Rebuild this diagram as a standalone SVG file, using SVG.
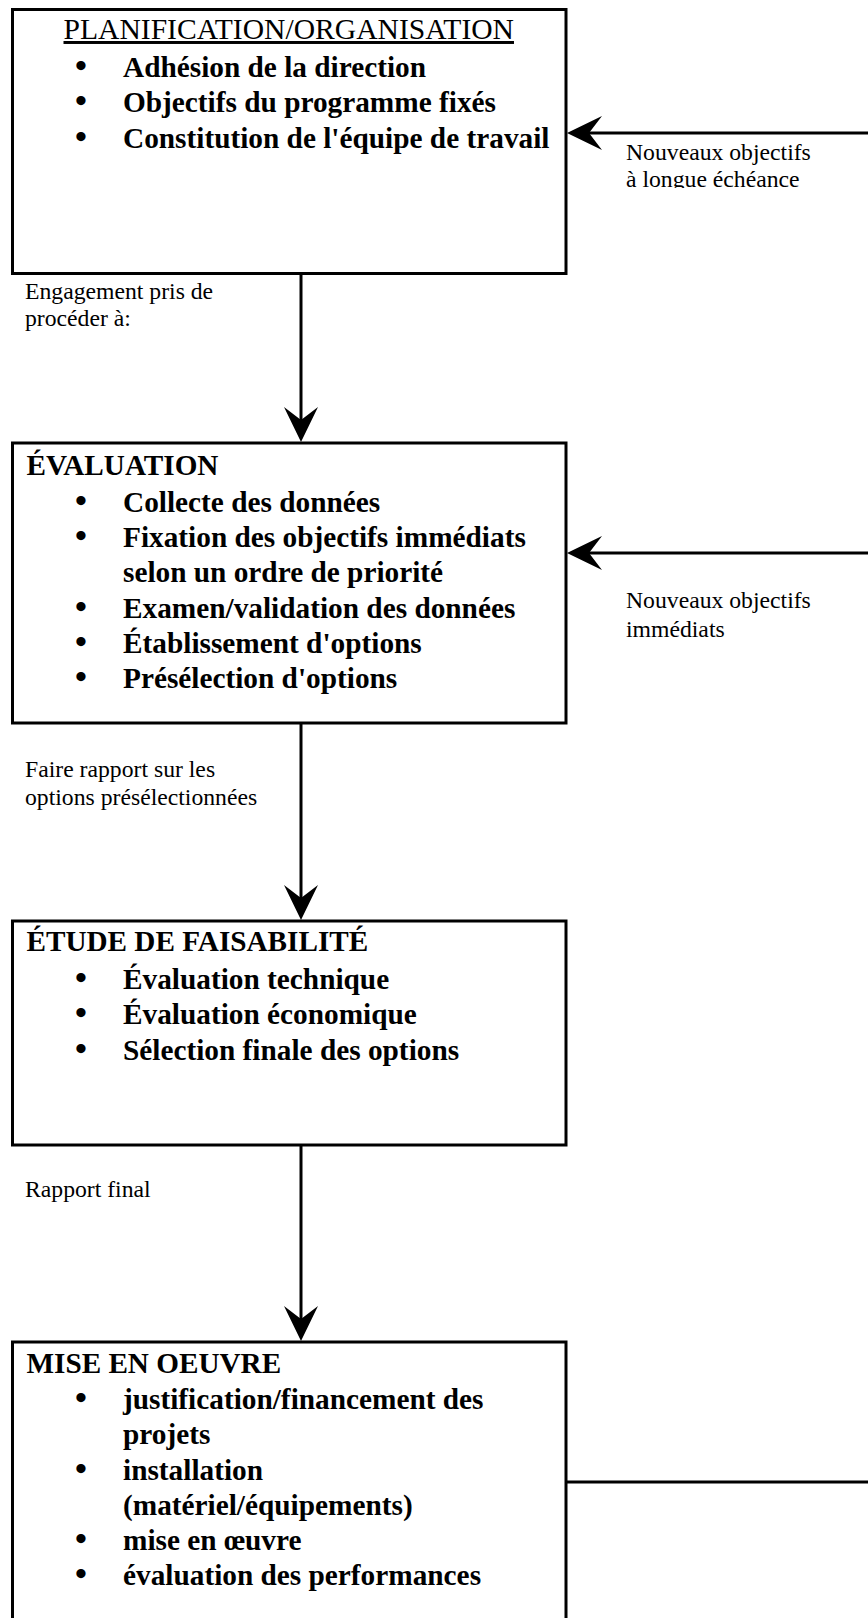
<svg xmlns="http://www.w3.org/2000/svg" width="868" height="1618" viewBox="0 0 868 1618">
<style>
.box{fill:#fff;stroke:#000;stroke-width:3}
.conn{fill:none;stroke:#000;stroke-width:3}
.t{font-family:"Liberation Serif","Times New Roman",serif;fill:#000}
.title{font-size:29.6px}
.h{font-size:29.2px;font-weight:bold}
.it{font-size:29.3px;font-weight:bold}
.bul{font-size:34px}
.lbl{font-size:23.7px}
</style>
<defs>
<marker id="ah" viewBox="0 0 35 34" refX="14" refY="17" markerWidth="35" markerHeight="34" orient="auto" markerUnits="userSpaceOnUse">
<path d="M0,0 L35,17 L0,34 L13,17 Z" fill="#000"/>
</marker>
<clipPath id="clipLbl"><rect x="600" y="135" width="268" height="53"/></clipPath>
</defs>
<rect width="868" height="1618" fill="#fff"/>

<g id="connectors">
<path class="conn" d="M301,274 V421" marker-end="url(#ah)"/>
<path class="conn" d="M301,723 V899" marker-end="url(#ah)"/>
<path class="conn" d="M301,1145 V1320" marker-end="url(#ah)"/>
<path class="conn" d="M868,133 H588" marker-end="url(#ah)"/>
<path class="conn" d="M868,553 H588" marker-end="url(#ah)"/>
<path class="conn" d="M566,1482 H868"/>
<g class="t lbl">
<g clip-path="url(#clipLbl)">
<text x="626" y="160">Nouveaux objectifs</text>
<text x="626" y="187">à longue échéance</text>
</g>
<text x="626" y="608">Nouveaux objectifs</text>
<text x="626" y="637">immédiats</text>
<text x="25" y="299">Engagement pris de</text>
<text x="25" y="326">procéder à:</text>
<text x="25" y="777">Faire rapport sur les</text>
<text x="25" y="805">options présélectionnées</text>
<text x="25" y="1197">Rapport final</text>
</g>
</g>

<g id="planification">
<rect class="box" x="12.5" y="9.5" width="553.5" height="264"/>
<text class="t title" x="63.5" y="39" text-decoration="underline">PLANIFICATION/ORGANISATION</text>
<text class="t it" y="77"><tspan class="bul" x="75">•</tspan><tspan x="123">Adhésion de la direction</tspan></text>
<text class="t it" y="112"><tspan class="bul" x="75">•</tspan><tspan x="123">Objectifs du programme fixés</tspan></text>
<text class="t it" y="148"><tspan class="bul" x="75">•</tspan><tspan x="123">Constitution de l'équipe de travail</tspan></text>
</g>

<g id="evaluation">
<rect class="box" x="12.5" y="443" width="553.5" height="280"/>
<text class="t h" x="26.5" y="475">ÉVALUATION</text>
<text class="t it" y="511.5"><tspan class="bul" x="75">•</tspan><tspan x="123">Collecte des données</tspan></text>
<text class="t it" y="547"><tspan class="bul" x="75">•</tspan><tspan x="123">Fixation des objectifs immédiats</tspan></text>
<text class="t it" x="123" y="582">selon un ordre de priorité</text>
<text class="t it" y="617.5"><tspan class="bul" x="75">•</tspan><tspan x="123">Examen/validation des données</tspan></text>
<text class="t it" y="652.5"><tspan class="bul" x="75">•</tspan><tspan x="123">Établissement d'options</tspan></text>
<text class="t it" y="687.5"><tspan class="bul" x="75">•</tspan><tspan x="123">Présélection d'options</tspan></text>
</g>

<g id="faisabilite">
<rect class="box" x="12.5" y="921" width="553.5" height="224"/>
<text class="t h" x="26.5" y="951">ÉTUDE DE FAISABILITÉ</text>
<text class="t it" y="989"><tspan class="bul" x="75">•</tspan><tspan x="123">Évaluation technique</tspan></text>
<text class="t it" y="1024"><tspan class="bul" x="75">•</tspan><tspan x="123">Évaluation économique</tspan></text>
<text class="t it" y="1060"><tspan class="bul" x="75">•</tspan><tspan x="123">Sélection finale des options</tspan></text>
</g>

<g id="mise-en-oeuvre">
<rect class="box" x="12.5" y="1342" width="553.5" height="300"/>
<text class="t h" x="26.5" y="1373">MISE EN OEUVRE</text>
<text class="t it" y="1409"><tspan class="bul" x="75">•</tspan><tspan x="123">justification/financement des</tspan></text>
<text class="t it" x="123" y="1444">projets</text>
<text class="t it" y="1480"><tspan class="bul" x="75">•</tspan><tspan x="123">installation</tspan></text>
<text class="t it" x="123" y="1515">(matériel/équipements)</text>
<text class="t it" y="1550"><tspan class="bul" x="75">•</tspan><tspan x="123">mise en œuvre</tspan></text>
<text class="t it" y="1585"><tspan class="bul" x="75">•</tspan><tspan x="123">évaluation des performances</tspan></text>
</g>
</svg>
